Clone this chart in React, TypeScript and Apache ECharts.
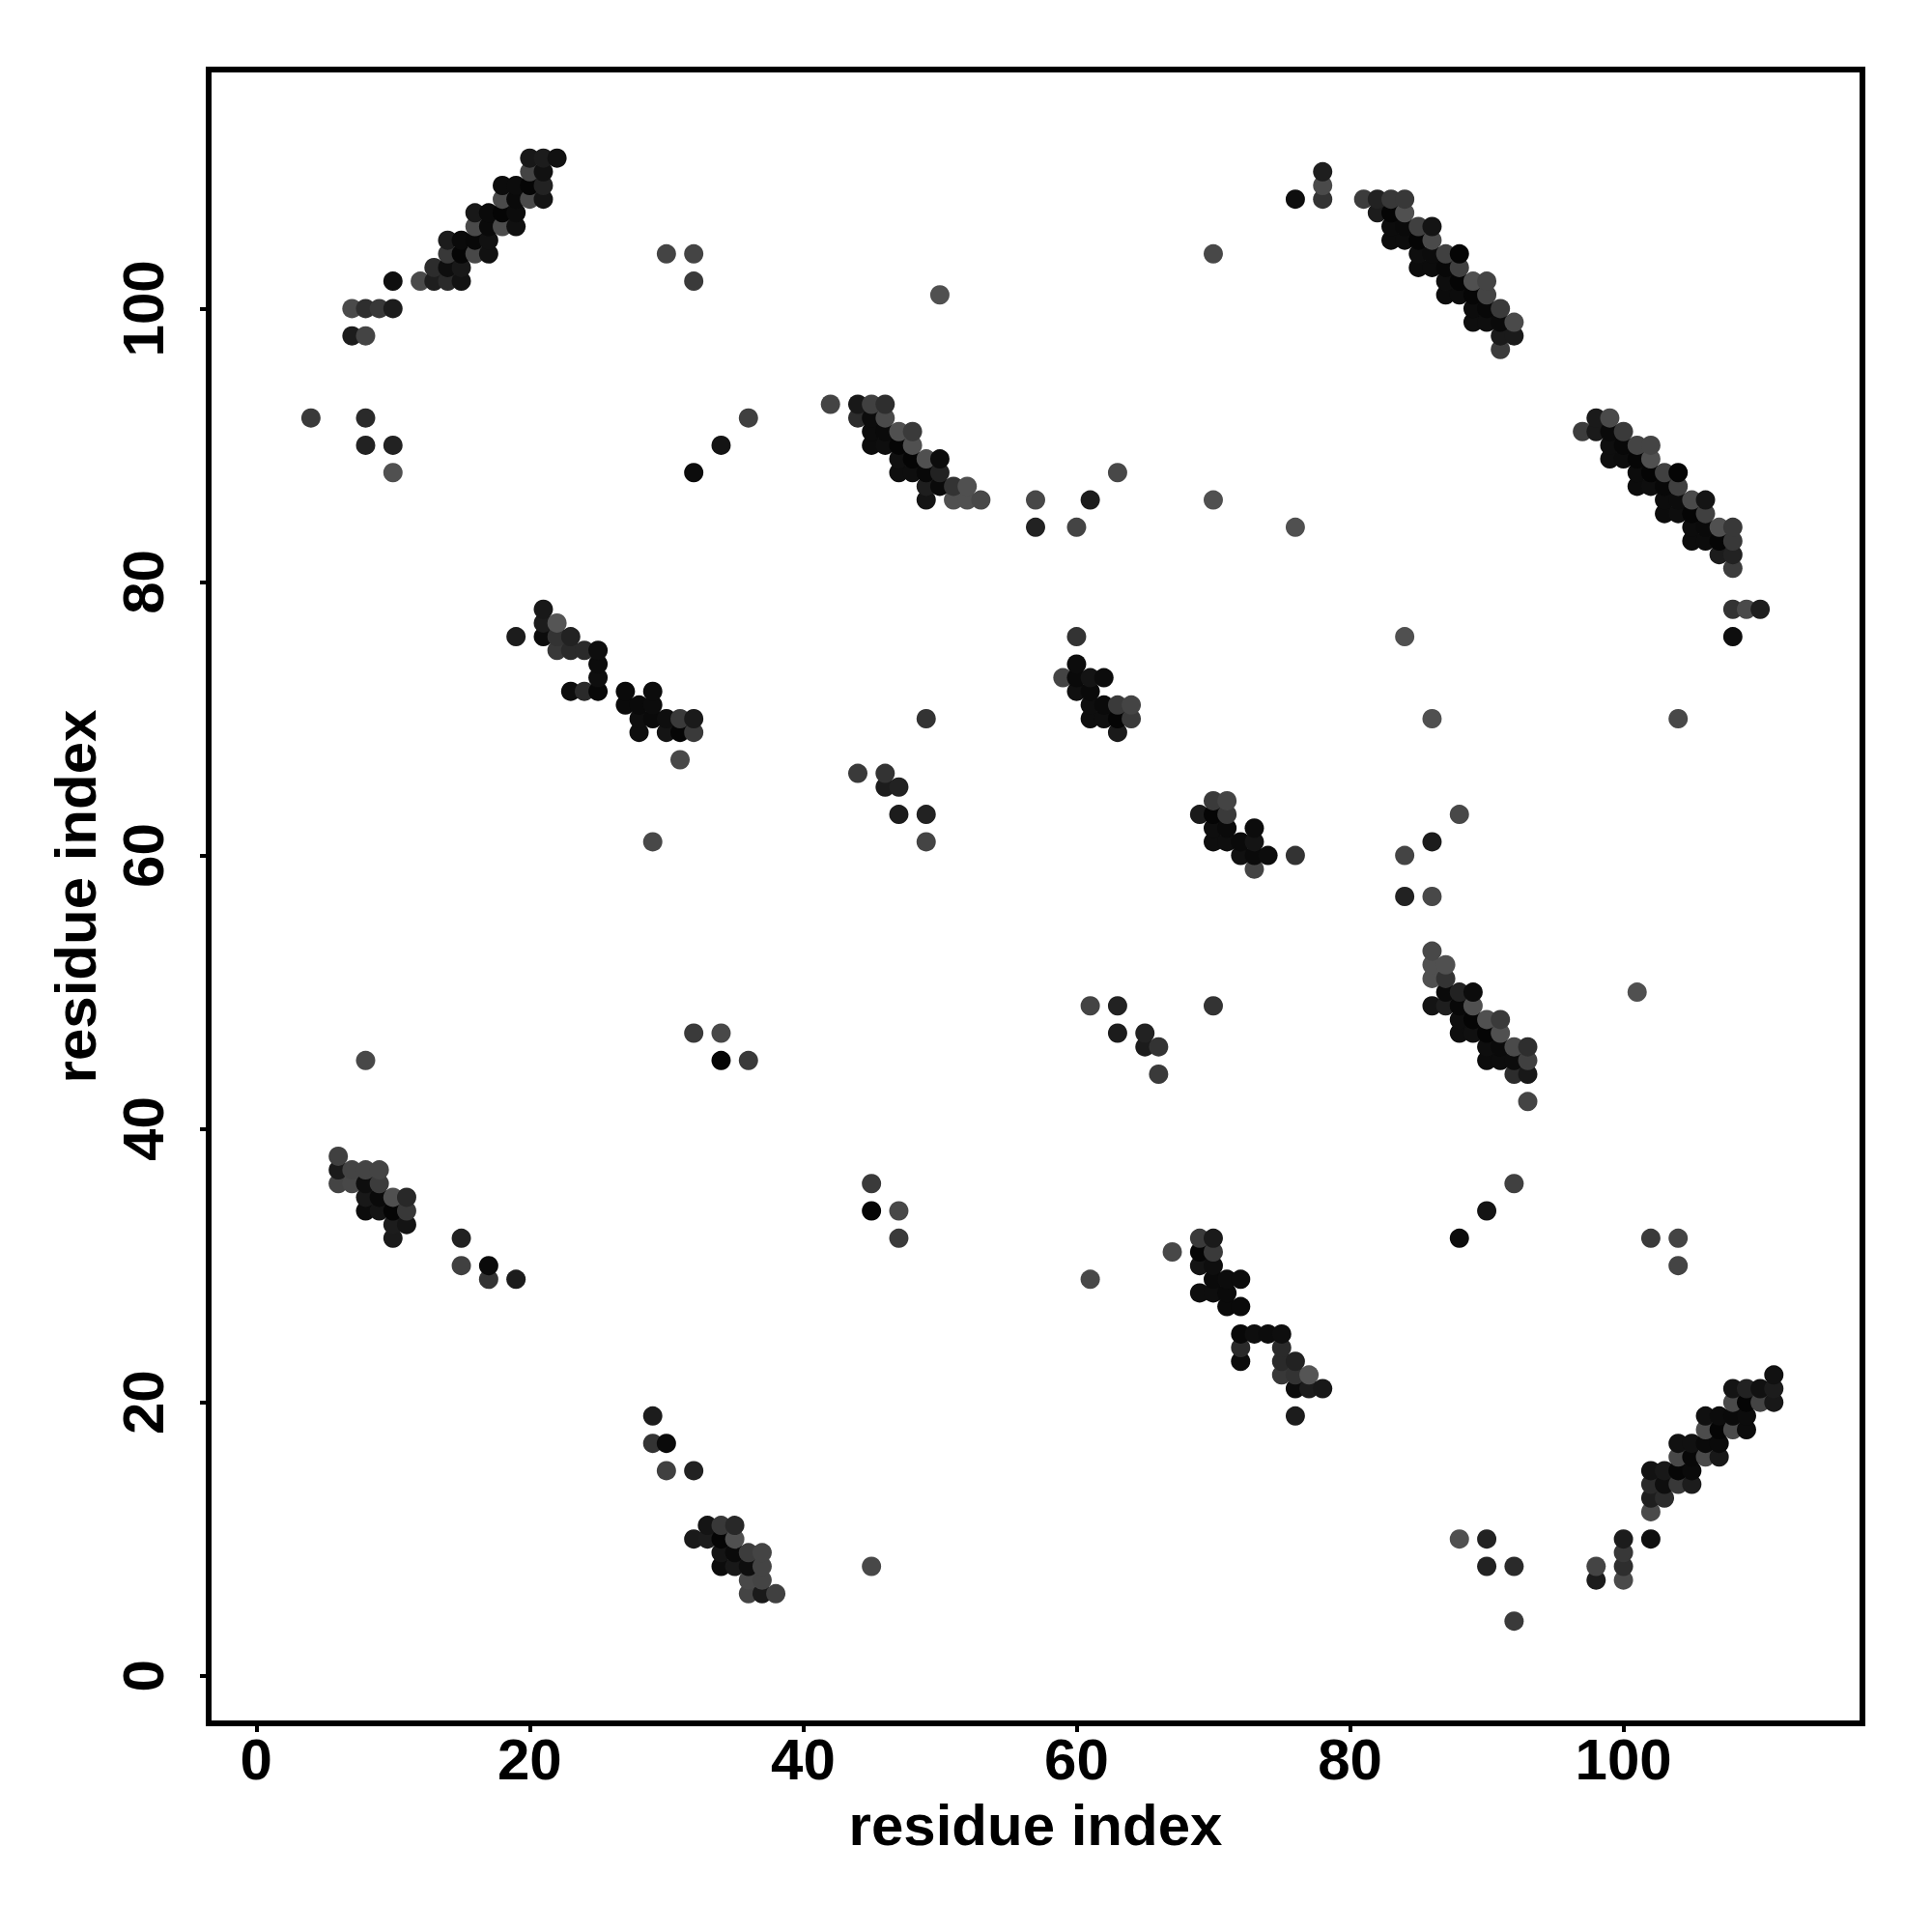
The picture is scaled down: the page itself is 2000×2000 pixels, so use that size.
import React, { useEffect, useRef } from "react";
import * as echarts from "echarts";

type Contact = [number, number, number]; // residue i, residue j, grey level (0-255)

const tickValues = [0, 20, 40, 60, 80, 100];
const axisName = "residue index";

// The map is symmetric: each contact below is also drawn as (j, i).
const clusterTopLeft: Contact[] = [
  [20,111,24],[21,111,28],[22,111,17],
  [20,110,68],[21,110,17],
  [18,109,12],[19,109,12],[20,109,5],[21,109,34],
  [18,108,74],[19,108,10],[20,108,74],[21,108,20],
  [16,107,24],[17,107,10],[18,107,5],[19,107,12],
  [16,106,74],[17,106,10],[18,106,76],[19,106,16],
  [14,105,28],[15,105,10],[16,105,8],[17,105,17],
  [14,104,56],[15,104,6],[16,104,72],[17,104,17],
  [13,103,44],[14,103,14],[15,103,24],
  [10,102,15],[12,102,74],[13,102,30],[14,102,42],[15,102,18],
  [7,100,74],[8,100,46],[9,100,56],[10,100,28],
  [7,98,28],[8,98,68],
];

const clusterTopRight: Contact[] = [
  [78,110,30],[78,109,74],[76,108,14],[78,108,51],
  [81,108,60],[82,108,34],[83,108,56],[84,108,56],
  [82,107,28],[83,107,5],[84,107,80],
  [83,106,12],[84,106,10],[85,106,64],[86,106,20],
  [83,105,12],[84,105,12],[85,105,5],[86,105,74],
  [85,104,14],[86,104,12],[87,104,64],[88,104,5],
  [85,103,12],[86,103,12],[87,103,8],[88,103,64],
  [87,102,14],[88,102,5],[89,102,80],[90,102,68],
  [87,101,12],[88,101,12],[89,101,6],[90,101,68],
  [89,100,12],[90,100,8],[91,100,58],
  [89,99,14],[90,99,14],[91,99,10],[92,99,74],
  [91,98,26],[92,98,26],[91,97,60],
];

const clusterMiddleTop: Contact[] = [
  [42,93,68],[44,93,24],[45,93,64],[46,93,46],
  [44,92,44],[45,92,12],[46,92,74],
  [45,91,12],[46,91,10],[47,91,80],[48,91,58],
  [45,90,12],[46,90,14],[47,90,5],[48,90,80],
  [47,89,16],[48,89,5],[49,89,80],[50,89,12],
  [47,88,14],[48,88,14],[49,88,8],[50,88,34],
  [49,87,30],[50,87,10],[51,87,51],[52,87,80],
  [49,86,20],[51,86,80],[52,86,80],[53,86,72],
];

const clusterHelixMiddle: Contact[] = [
  [21,78,24],[21,77,28],[22,77,85],
  [19,76,28],[21,76,12],[22,76,51],[23,76,34],
  [22,75,56],[23,75,42],[24,75,42],[25,75,14],
  [25,74,12],[25,73,14],
  [23,72,12],[24,72,42],[25,72,8],[27,72,10],[29,72,12],
  [27,71,10],[28,71,10],[29,71,12],
  [28,70,14],[29,70,10],[30,70,14],[31,70,58],[32,70,26],
  [28,69,14],[30,69,20],[31,69,6],[32,69,58],
  [31,67,72],
];

const clusterCentre: Contact[] = [
  [60,76,51],[60,74,12],
  [59,73,68],[60,73,10],[61,73,20],[62,73,12],
  [60,72,16],[61,72,10],
  [61,71,14],[62,71,10],[63,71,58],[64,71,68],
  [61,70,14],[62,70,14],[63,70,5],[64,70,58],
  [63,69,26],
];

const clusterLowerLeft: Contact[] = [
  [6,38,64],[6,37,26],[7,37,68],[8,37,68],[9,37,68],
  [6,36,68],[7,36,72],[8,36,14],[9,36,60],
  [8,35,24],[9,35,10],[10,35,80],[11,35,40],
  [8,34,12],[9,34,20],[10,34,5],[11,34,56],
  [10,33,28],[11,33,20],[10,32,26],
  [15,32,34],[15,30,64],[17,30,10],[17,29,51],[19,29,28],
];

const isolatedContacts: Contact[] = [
  [4,92,58],[8,92,42],[8,90,34],[10,90,34],[10,88,80],
  [30,104,68],[32,104,68],[32,102,58],[50,101,80],[70,104,72],
  [32,88,12],[34,90,20],[36,92,64],
  [57,86,72],[57,84,34],[60,84,68],[61,86,28],[63,88,72],[70,86,80],[76,84,80],
  [49,70,51],[44,66,58],[46,66,51],[46,65,28],[47,65,34],[47,63,28],[49,63,34],[49,61,68],
  [29,61,72],[8,45,72],[32,47,58],[34,47,72],[34,45,5],[36,45,58],
];

const upperContacts: Contact[] = [
  ...clusterTopLeft,
  ...clusterTopRight,
  ...clusterMiddleTop,
  ...clusterHelixMiddle,
  ...clusterCentre,
  ...clusterLowerLeft,
  ...isolatedContacts,
];

const grey = (g: number) => `rgb(${g},${g},${g})`;

export default function App() {
  const ref = useRef<HTMLDivElement>(null);
  useEffect(() => {
    document.body.style.margin = "0";
    const chart = echarts.init(ref.current!, undefined, { renderer: "svg" });
    const points = upperContacts
      .flatMap(([i, j, g]) => [[i, j, g], [j, i, g]])
      .sort((a, b) => a[0] - b[0] || a[1] - b[1])
      .map(([i, j, g]) => ({ value: [i, j], itemStyle: { color: grey(g), opacity: 1 } }));
    const font = { fontFamily: "Liberation Sans", fontWeight: "bold" as const, color: "#000" };
    const axisBase = {
      type: "value" as const,
      min: -3.48,
      max: 117.48,
      splitLine: { show: false },
      axisLine: { show: true, onZero: false, lineStyle: { color: "#000", width: 6 } },
      axisTick: { show: true, length: 9, lineStyle: { color: "#000", width: 4 }, customValues: tickValues },
      name: axisName,
      nameLocation: "middle" as const,
      nameTextStyle: { ...font, fontSize: 60 },
    };
    chart.setOption({
      animation: false,
      backgroundColor: "#fff",
      grid: { show: true, left: 216, right: 72, top: 72, bottom: 216, borderColor: "#000", borderWidth: 6 },
      xAxis: {
        ...axisBase,
        nameGap: 75,
        axisLabel: { ...font, fontSize: 60, margin: 7, customValues: tickValues, hideOverlap: false },
      },
      yAxis: {
        ...axisBase,
        nameGap: 108,
        axisLabel: { ...font, fontSize: 60, margin: 38, rotate: 90, customValues: tickValues, hideOverlap: false },
      },
      series: [{ type: "scatter", symbol: "circle", symbolSize: 20, itemStyle: { opacity: 1 }, data: points, clip: false }],
    });
    return () => chart.dispose();
  }, []);
  return <div ref={ref} style={{ width: 2000, height: 2000 }} />;
}
